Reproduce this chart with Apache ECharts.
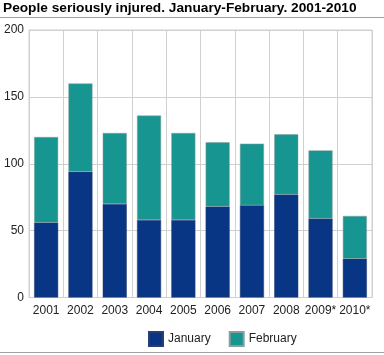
<!DOCTYPE html>
<html><head><meta charset="utf-8">
<script src="https://cdn.jsdelivr.net/npm/echarts@6/dist/echarts.min.js"></script>
<style>html,body{margin:0;padding:0;background:#fff}#c{width:384px;height:355px}</style>
</head><body><div id="c"></div>
<script>
const categories = ['2001','2002','2003','2004','2005','2006','2007','2008','2009*','2010*'];
const january = [56, 94, 70, 58, 58, 68, 69, 77, 59, 29];
const february = [64, 66, 53, 78, 65, 48, 46, 45, 51, 32];
const yTicks = [0, 50, 100, 150, 200];

const chart = echarts.init(document.getElementById('c'), null, {renderer:'canvas'});
chart.setOption({
  animation: false,
  textStyle: {fontFamily: 'Liberation Sans, Arial, sans-serif'},
  title: {
    text: 'People seriously injured. January-February. 2001-2010',
    left: 3, top: 1.5, padding: 0,
    textStyle: {fontSize: 13.7, fontWeight: 'bold', color: '#000', fontFamily: 'Liberation Sans, Arial, sans-serif'}
  },
  graphic: [
    {type:'line', shape:{x1:0,y1:17.5,x2:384,y2:17.5}, style:{stroke:'#a0a0a0', lineWidth:1}},
    {type:'line', shape:{x1:0,y1:352.5,x2:384,y2:352.5}, style:{stroke:'#a0a0a0', lineWidth:1}}
  ],
  grid: {left: 29, right: 12, top: 30, bottom: 57.5, show: true, borderColor: '#d0d0d0', borderWidth: 1},
  legend: {
    data: ['January','February'],
    top: 331, left: 148, padding: 0,
    itemWidth: 14, itemHeight: 14, itemGap: 18,
    icon: 'rect',
    textStyle: {fontSize: 12, color: '#222'}
  },
  xAxis: {
    type: 'category', data: categories,
    axisLine: {show: true, lineStyle: {color: '#d0d0d0'}},
    axisTick: {show: false},
    splitLine: {show: true, lineStyle: {color: '#d0d0d0'}},
    axisLabel: {fontSize: 12, color: '#222', margin: 7, interval: 0}
  },
  yAxis: {
    type: 'value', min: yTicks[0], max: yTicks[yTicks.length-1], interval: 50,
    axisLine: {show: true, lineStyle: {color: '#d0d0d0'}},
    axisTick: {show: false},
    splitLine: {show: true, lineStyle: {color: '#d0d0d0'}},
    axisLabel: {fontSize: 12, color: '#222', margin: 5}
  },
  series: [
    {name: 'January', type: 'bar', stack: 'a', data: january, barWidth: '70%',
     itemStyle: {color: '#083685', borderColor: '#2a3f6e', borderWidth: 0.5}},
    {name: 'February', type: 'bar', stack: 'a', data: february, barWidth: '70%',
     itemStyle: {color: '#179591', borderColor: '#8a9e9d', borderWidth: 0.5}}
  ]
});
</script></body></html>
